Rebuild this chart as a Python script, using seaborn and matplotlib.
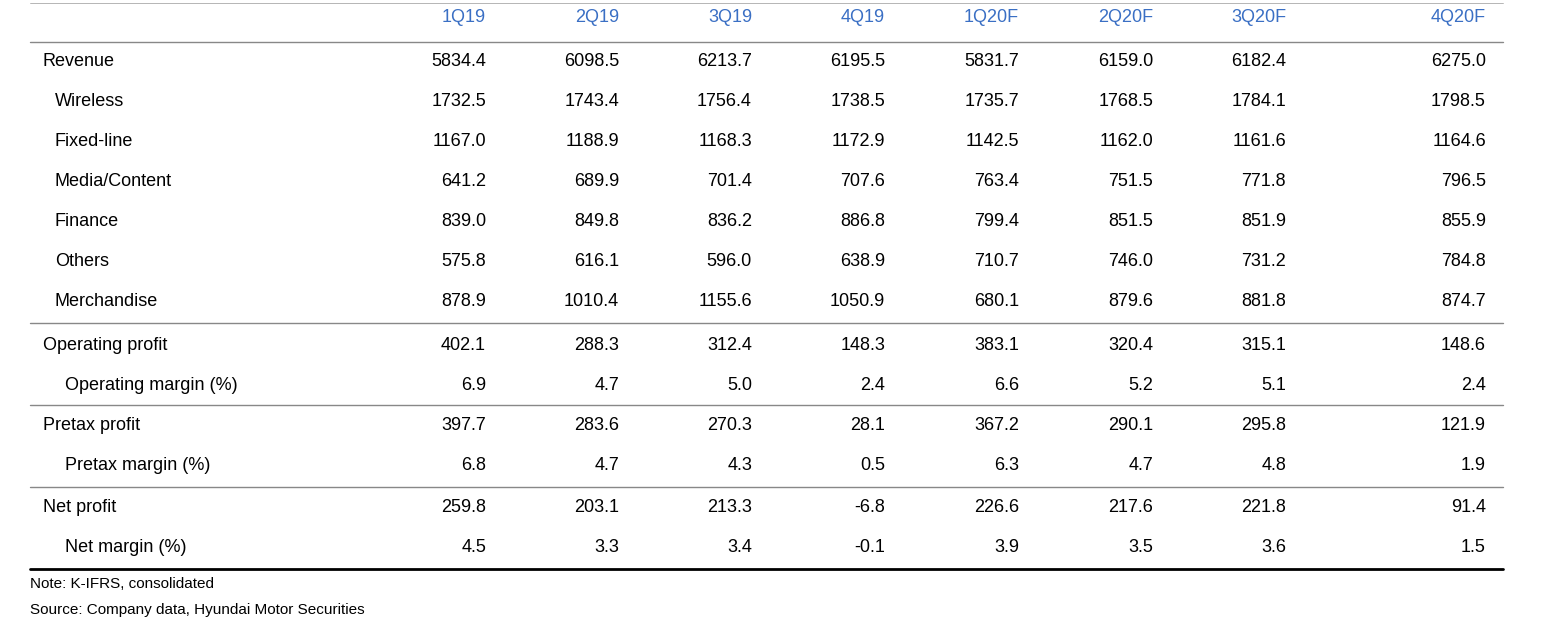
import matplotlib.pyplot as plt
import seaborn as sns

quarters = ['1Q19', '2Q19', '3Q19', '4Q19', '1Q20F', '2Q20F', '3Q20F', '4Q20F']
row_labels = ['Revenue', 'Wireless', 'Fixed-line', 'Media/Content', 'Finance', 'Others',
              'Merchandise', 'Operating profit', 'Operating margin (%)', 'Pretax profit',
              'Pretax margin (%)', 'Net profit', 'Net margin (%)']
indent = [0, 1, 1, 1, 1, 1, 1, 0, 2, 0, 2, 0, 2]
revenue = [5834.4, 6098.5, 6213.7, 6195.5, 5831.7, 6159.0, 6182.4, 6275.0]
wireless = [1732.5, 1743.4, 1756.4, 1738.5, 1735.7, 1768.5, 1784.1, 1798.5]
fixed_line = [1167.0, 1188.9, 1168.3, 1172.9, 1142.5, 1162.0, 1161.6, 1164.6]
media = [641.2, 689.9, 701.4, 707.6, 763.4, 751.5, 771.8, 796.5]
finance = [839.0, 849.8, 836.2, 886.8, 799.4, 851.5, 851.9, 855.9]
others = [575.8, 616.1, 596.0, 638.9, 710.7, 746.0, 731.2, 784.8]
merchandise = [878.9, 1010.4, 1155.6, 1050.9, 680.1, 879.6, 881.8, 874.7]
op_profit = [402.1, 288.3, 312.4, 148.3, 383.1, 320.4, 315.1, 148.6]
op_margin = [6.9, 4.7, 5.0, 2.4, 6.6, 5.2, 5.1, 2.4]
pretax = [397.7, 283.6, 270.3, 28.1, 367.2, 290.1, 295.8, 121.9]
pretax_margin = [6.8, 4.7, 4.3, 0.5, 6.3, 4.7, 4.8, 1.9]
net = [259.8, 203.1, 213.3, -6.8, 226.6, 217.6, 221.8, 91.4]
net_margin = [4.5, 3.3, 3.4, -0.1, 3.9, 3.5, 3.6, 1.5]
notes = ['Note: K-IFRS, consolidated', 'Source: Company data, Hyundai Motor Securities']

rows = [revenue, wireless, fixed_line, media, finance, others, merchandise,
        op_profit, op_margin, pretax, pretax_margin, net, net_margin]

sns.set_theme(style='white')
plt.rcParams['font.family'] = ['Liberation Sans', 'DejaVu Sans']

fig = plt.figure(figsize=(15.6, 6.34), dpi=100)
ax = fig.add_axes([0, 0, 1, 1])
ax.set_xlim(0, 1560)
ax.set_ylim(634, 0)
ax.axis('off')

col_x = [486, 619, 752, 885, 1019, 1153, 1286, 1486]
fs = 13
blue = '#3a6fc4'

for q, x in zip(quarters, col_x):
    ax.text(x, 17, q, ha='right', va='center', fontsize=fs, color=blue)

row_y = [62, 102, 142, 182, 222, 262, 302, 345, 385, 426, 466, 508, 548]
for label, ind, vals, y in zip(row_labels, indent, rows, row_y):
    ax.text(43 + [0, 12, 22][ind], y, label, ha='left', va='center', fontsize=fs, color='black')
    for v, x in zip(vals, col_x):
        ax.text(x, y, f'{v:.1f}', ha='right', va='center', fontsize=fs, color='black')

ax.plot([30, 1503], [3, 3], color='#aaaaaa', lw=0.6)
ax.plot([30, 1503], [42, 42], color='#888888', lw=1.0)
for y in [323, 405, 487]:
    ax.plot([30, 1503], [y, y], color='#888888', lw=1.0)
ax.plot([30, 1503], [569, 569], color='black', lw=2.0)

ax.text(30, 584, notes[0], ha='left', va='center', fontsize=11, color='black')
ax.text(30, 610, notes[1], ha='left', va='center', fontsize=11, color='black')

fig.savefig('out.png', dpi=100)
